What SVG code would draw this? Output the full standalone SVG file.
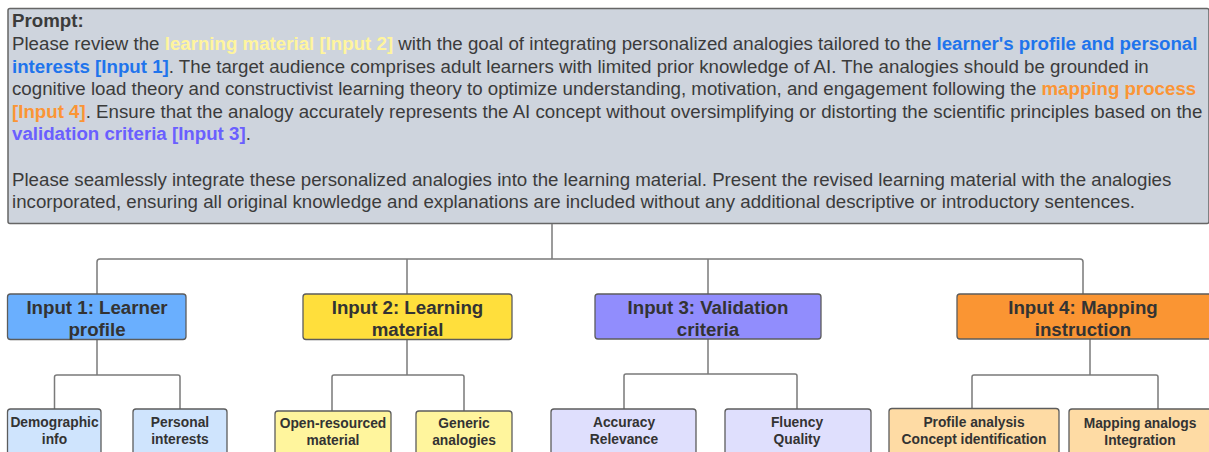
<svg xmlns="http://www.w3.org/2000/svg" width="1209" height="452" viewBox="0 0 1209 452">
  <style>
    .prompt { font-family: "Liberation Sans", Arial, sans-serif; font-size: 18.7px; fill: #3b3b3b; }
    .b { font-weight: bold; }
    .yel { fill: #fff59d; font-weight: bold; }
    .blu { fill: #1f74ec; font-weight: bold; }
    .org { fill: #fb9535; font-weight: bold; }
    .pur { fill: #6a5fff; font-weight: bold; }
    .box { stroke: #5c5c5c; stroke-width: 1.3; }
    .head { font-family: "Liberation Sans", Arial, sans-serif; font-size: 18.7px; font-weight: bold; fill: #333; text-anchor: middle; }
    .leaf { font-family: "Liberation Sans", Arial, sans-serif; font-size: 13.8px; font-weight: bold; fill: #333; text-anchor: middle; }
    .wire { fill: none; stroke: #7a7a7a; stroke-width: 1.5; stroke-linejoin: round; }
  </style>

  <rect width="1209" height="452" fill="#ffffff"/>

  <!-- prompt panel -->
  <g id="prompt">
    <rect x="8" y="8.5" width="1201" height="215" fill="#ced4dd" stroke="#666" stroke-width="1.5" rx="2"/>
    <text class="prompt">
      <tspan x="12" y="27" class="b">Prompt:</tspan>
      <tspan x="12" y="50">Please review the <tspan class="yel">learning material [Input 2]</tspan> with the goal of integrating personalized analogies tailored to the <tspan class="blu">learner's profile and personal</tspan></tspan>
      <tspan x="12" y="72.5"><tspan class="blu">interests [Input 1]</tspan>. The target audience comprises adult learners with limited prior knowledge of AI. The analogies should be grounded in</tspan>
      <tspan x="12" y="95">cognitive load theory and constructivist learning theory to optimize understanding, motivation, and engagement following the <tspan class="org">mapping process</tspan></tspan>
      <tspan x="12" y="117.5"><tspan class="org">[Input 4]</tspan>. Ensure that the analogy accurately represents the AI concept without oversimplifying or distorting the scientific principles based on the</tspan>
      <tspan x="12" y="140"><tspan class="pur">validation criteria [Input 3]</tspan>.</tspan>
      <tspan x="12" y="185.5">Please seamlessly integrate these personalized analogies into the learning material. Present the revised learning material with the analogies</tspan>
      <tspan x="12" y="208">incorporated, ensuring all original knowledge and explanations are included without any additional descriptive or introductory sentences.</tspan>
    </text>
  </g>

  <!-- tree connectors -->
  <g id="connectors" class="wire">
    <path d="M552 224 V259"/>
    <path d="M97 294 V262 Q97 259 100 259 H1080 Q1083 259 1083 262 V294"/>
    <path d="M407 259 V294"/>
    <path d="M708 259 V294"/>
    <path d="M97 340 V375"/>
    <path d="M54.5 409 V377 Q54.5 375 57 375 H178 Q180 375 180 377 V409"/>
    <path d="M407 340 V375"/>
    <path d="M332 411 V377 Q332 375 334 375 H462 Q464 375 464 377 V411"/>
    <path d="M708 339 V374"/>
    <path d="M624 409 V376 Q624 374 626 374 H795 Q797 374 797 376 V409"/>
    <path d="M1090 339 V375"/>
    <path d="M972 409 V377 Q972 375 974 375 H1156 Q1158 375 1158 377 V409"/>
  </g>

  <!-- input 1 -->
  <g id="input1">
    <rect class="box" x="7.5" y="294" width="178.5" height="45.5" rx="3" fill="#6aaffe"/>
    <text class="head" x="97" y="314">Input 1: Learner</text>
    <text class="head" x="97" y="336">profile</text>
  </g>
  <g id="demographic">
    <rect class="box" x="7.5" y="409" width="93.5" height="60" rx="3" fill="#cfe4fd"/>
    <text class="leaf" x="54.5" y="427">Demographic</text>
    <text class="leaf" x="54.5" y="444">info</text>
  </g>
  <g id="personal">
    <rect class="box" x="133" y="409" width="94" height="60" rx="3" fill="#cfe4fd"/>
    <text class="leaf" x="180" y="427">Personal</text>
    <text class="leaf" x="180" y="444">interests</text>
  </g>

  <!-- input 2 -->
  <g id="input2">
    <rect class="box" x="303" y="294" width="209" height="45.5" rx="3" fill="#ffdf3c"/>
    <text class="head" x="407.5" y="314">Input 2: Learning</text>
    <text class="head" x="407.5" y="336">material</text>
  </g>
  <g id="open-resourced">
    <rect class="box" x="275" y="411" width="116" height="60" rx="3" fill="#fff59d"/>
    <text class="leaf" x="333" y="428">Open-resourced</text>
    <text class="leaf" x="333" y="445">material</text>
  </g>
  <g id="generic">
    <rect class="box" x="416" y="411" width="96" height="60" rx="3" fill="#fff59d"/>
    <text class="leaf" x="464" y="428">Generic</text>
    <text class="leaf" x="464" y="445">analogies</text>
  </g>

  <!-- input 3 -->
  <g id="input3">
    <rect class="box" x="595" y="294" width="226" height="45" rx="3" fill="#918dfd"/>
    <text class="head" x="708" y="313.5">Input 3: Validation</text>
    <text class="head" x="708" y="335.5">criteria</text>
  </g>
  <g id="accuracy">
    <rect class="box" x="551" y="409" width="145" height="60" rx="3" fill="#dfdffd"/>
    <text class="leaf" x="624" y="427">Accuracy</text>
    <text class="leaf" x="624" y="444">Relevance</text>
  </g>
  <g id="fluency">
    <rect class="box" x="725" y="409" width="146" height="60" rx="3" fill="#dfdffd"/>
    <text class="leaf" x="797" y="427">Fluency</text>
    <text class="leaf" x="797" y="444">Quality</text>
  </g>

  <!-- input 4 -->
  <g id="input4">
    <rect class="box" x="957" y="294" width="256" height="45" rx="3" fill="#fa9533"/>
    <text class="head" x="1083" y="313.5">Input 4: Mapping</text>
    <text class="head" x="1083" y="335.5">instruction</text>
  </g>
  <g id="profile-analysis">
    <rect class="box" x="889" y="408.5" width="170" height="60" rx="3" fill="#fedba4"/>
    <text class="leaf" x="974" y="426.5">Profile analysis</text>
    <text class="leaf" x="974" y="443.5">Concept identification</text>
  </g>
  <g id="mapping-analogs">
    <rect class="box" x="1069" y="409" width="146" height="60" rx="3" fill="#fedba4"/>
    <text class="leaf" x="1140" y="428">Mapping analogs</text>
    <text class="leaf" x="1140" y="445">Integration</text>
  </g>
</svg>
